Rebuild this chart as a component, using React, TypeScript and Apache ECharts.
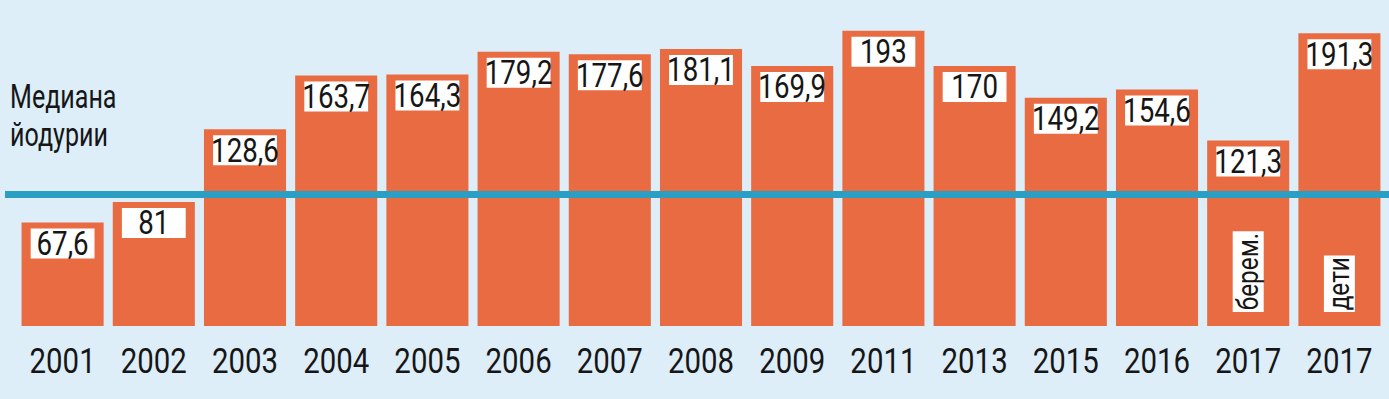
import React, { useEffect, useRef } from "react";
import * as echarts from "echarts";

const categories = ["2001", "2002", "2003", "2004", "2005", "2006", "2007", "2008", "2009", "2011", "2013", "2015", "2016", "2017", "2017"];
const values = [67.6, 81, 128.6, 163.7, 164.3, 179.2, 177.6, 181.1, 169.9, 193, 170, 149.2, 154.6, 121.3, 191.3];
const notes = ["", "", "", "", "", "", "", "", "", "", "", "", "", "берем.", "дети"];
const medianValue = 86;
const titleLines = ["Медиана", "йодурии"];

const FONT = 'Roboto, "Liberation Sans", sans-serif';
const BG = "#ddeef9";
const BAR = "#e96b42";
const LINE = "#2a9fc3";
const INK = "#161616";
const SX = 0.84;

export default function App() {
  const ref = useRef<HTMLDivElement>(null);
  useEffect(() => {
    document.body.style.margin = "0";
    document.body.style.background = BG;
    const chart = echarts.init(ref.current!, undefined, { renderer: "svg" });
    const fmt = (v: number) => String(v).replace(".", ",");
    const title = {
      type: "text",
      left: 10,
      top: 78,
      scaleX: 0.76,
      style: {
        text: titleLines.join("\n"),
        fontFamily: FONT,
        fontSize: 33,
        lineHeight: 38,
        fill: INK,
      },
    };
    chart.setOption({
      animation: false,
      backgroundColor: BG,
      grid: { left: 17, right: 4, top: 20, bottom: 73, containLabel: false },
      xAxis: {
        type: "category",
        data: categories,
        axisLine: { show: false },
        axisTick: { show: false },
        axisLabel: { show: false },
      },
      yAxis: { type: "value", min: 0, max: 200, show: false, splitLine: { show: false } },
      series: [
        {
          type: "bar",
          data: values,
          barCategoryGap: "10%",
          itemStyle: { color: BAR },
          z: 2,
        },
        {
          type: "custom",
          data: values.map((v, i) => [i, v]),
          z: 3,
          silent: true,
          renderItem: (params: any, api: any) => {
            const i = api.value(0);
            const v = api.value(1);
            const top = api.coord([i, v]);
            const base = api.coord([i, 0]);
            const cx = top[0];
            const children: any[] = [
              {
                type: "text",
                x: cx,
                y: top[1] + 6,
                scaleX: SX,
                style: {
                  text: fmt(v),
                  x: 0,
                  y: 0,
                  align: "center",
                  verticalAlign: "top",
                  fontFamily: FONT,
                  fontSize: 33,
                  lineHeight: 30,
                  width: 62,
                  padding: [0, 7, 0, 7],
                  backgroundColor: "#ffffff",
                  fill: INK,
                },
              },
              {
                type: "text",
                x: cx,
                y: base[1] + 35,
                scaleX: SX,
                style: {
                  text: categories[i],
                  x: 0,
                  y: 0,
                  align: "center",
                  verticalAlign: "middle",
                  fontFamily: FONT,
                  fontSize: 35,
                  fill: INK,
                },
              },
            ];
            if (notes[i]) {
              children.push({
                type: "text",
                x: cx,
                y: base[1] - 14,
                rotation: Math.PI / 2,
                scaleX: SX,
                style: {
                  text: notes[i],
                  x: 0,
                  y: 0,
                  align: "left",
                  verticalAlign: "middle",
                  fontFamily: FONT,
                  fontSize: 29,
                  lineHeight: 31,
                  padding: [0, 2, 0, 2],
                  backgroundColor: "#ffffff",
                  fill: INK,
                },
              });
            }
            return { type: "group", children };
          },
        },
      ],
      graphic: [title],
    });
    const y = chart.convertToPixel({ yAxisIndex: 0 }, medianValue) as number;
    chart.setOption({
      graphic: [
        title,
        {
          type: "line",
          z: 10,
          shape: { x1: 5, y1: y, x2: 1389, y2: y },
          style: { stroke: LINE, lineWidth: 7 },
        },
      ],
    });
    return () => chart.dispose();
  }, []);
  return <div ref={ref} style={{ width: 1389, height: 399, position: "fixed", left: 0, top: 0 }} />;
}
